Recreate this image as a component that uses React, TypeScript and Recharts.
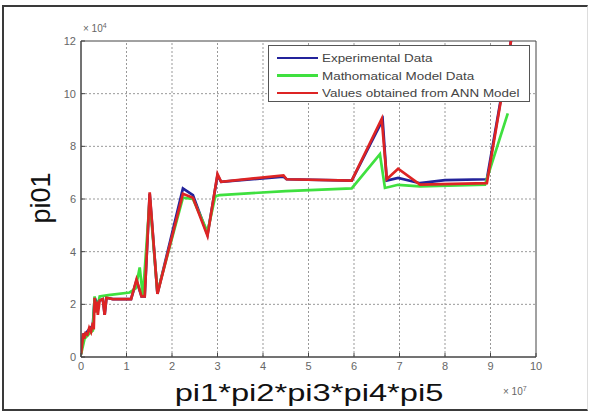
import React from "react";
import {
  Line,
  LineChart,
  ReferenceArea,
  ReferenceLine,
  XAxis,
  YAxis,
} from "recharts";

// x in units of 1e7, y in units of 1e4
const annX = [0, 0.02, 0.05, 0.07, 0.1, 0.14, 0.18, 0.22, 0.26, 0.28, 0.3, 0.32, 0.35, 0.37, 0.41, 0.48, 0.52, 0.56, 0.7, 0.9, 1.1, 1.22, 1.33, 1.4, 1.51, 1.68, 2.24, 2.46, 2.78, 3.0, 3.08, 4.45, 4.52, 5.95, 6.61, 6.72, 6.97, 7.45, 8.92, 9.45];
const annY = [0.1, 0.4, 0.9, 0.7, 0.9, 0.85, 1.1, 0.95, 1.3, 1.05, 2.25, 1.7, 2.1, 1.6, 2.15, 2.2, 1.6, 2.25, 2.2, 2.2, 2.2, 2.95, 2.3, 2.3, 6.25, 2.4, 6.2, 6.05, 4.6, 6.95, 6.65, 6.9, 6.75, 6.7, 9.05, 6.75, 7.15, 6.55, 6.6, 12.0];

const expX = [0, 0.05, 0.1, 0.18, 0.26, 0.3, 0.35, 0.41, 0.48, 0.52, 0.56, 0.7, 1.1, 1.22, 1.33, 1.4, 1.51, 1.68, 2.24, 2.46, 2.78, 3.0, 3.08, 4.45, 4.52, 5.95, 6.63, 6.72, 6.97, 7.45, 8.0, 8.92, 9.45];
const expY = [0.1, 0.85, 0.9, 1.05, 1.2, 2.25, 2.05, 2.15, 2.2, 1.6, 2.25, 2.2, 2.2, 2.9, 2.3, 2.3, 6.2, 2.4, 6.4, 6.15, 4.65, 6.9, 6.65, 6.85, 6.75, 6.7, 9.0, 6.7, 6.8, 6.6, 6.72, 6.75, 12.0];

const mathX = [0, 0.08, 0.19, 0.26, 0.3, 0.34, 0.41, 0.6, 1.07, 1.2, 1.29, 1.36, 1.51, 1.68, 2.24, 2.46, 2.78, 2.95, 3.05, 4.5, 5.95, 6.57, 6.68, 6.97, 7.45, 8.88, 9.38];
const mathY = [0.1, 0.7, 0.9, 1.0, 2.3, 1.7, 2.3, 2.35, 2.45, 2.6, 3.4, 2.3, 6.0, 2.45, 6.05, 6.0, 4.75, 6.1, 6.15, 6.3, 6.4, 7.7, 6.42, 6.54, 6.48, 6.54, 9.25];

const xTicks = [0, 1, 2, 3, 4, 5, 6, 7, 8, 9, 10];
const yTicks = [0, 2, 4, 6, 8, 10, 12];

const series = [
  { name: "Experimental Data", color: "#23239b", xs: expX, ys: expY },
  { name: "Mathomatical Model Data", color: "#3fe03f", xs: mathX, ys: mathY },
  { name: "Values obtained from ANN Model", color: "#dd2424", xs: annX, ys: annY },
];

const toPoints = (xs: number[], ys: number[]) => xs.map((x, i) => ({ x, y: ys[i] }));

const font = '"Liberation Sans", Arial, sans-serif';
const tickStyle = { fill: "#666", fontSize: 11, fontFamily: font };
const gridLine = { stroke: "#999", strokeDasharray: "2 2", strokeWidth: 1 };

function LegendBox() {
  return (
    <div
      style={{
        position: "absolute",
        left: 268,
        top: 45,
        width: 262,
        height: 57,
        border: "1px solid #555",
        background: "#fff",
        boxSizing: "border-box",
        fontFamily: font,
      }}
    >
      {series.map((s, i) => (
        <div
          key={s.name}
          style={{ position: "absolute", left: 8, top: 4 + i * 17.5, height: 16, display: "flex", alignItems: "center" }}
        >
          <div style={{ width: 41, height: 2.5, background: s.color }} />
          <span
            style={{
              marginLeft: 4,
              fontSize: 11,
              color: "#444",
              whiteSpace: "nowrap",
              display: "inline-block",
              transform: "scaleX(1.22)",
              transformOrigin: "left center",
            }}
          >
            {s.name}
          </span>
        </div>
      ))}
    </div>
  );
}

export default function App() {
  return (
    <div style={{ position: "absolute", left: 0, top: 0, width: 589, height: 412, background: "#fff", overflow: "hidden" }}>
      <div
        style={{
          position: "absolute",
          left: 2,
          top: 5,
          width: 586,
          height: 406,
          boxSizing: "border-box",
          borderTop: "2px solid #3a3a3a",
          borderLeft: "2px solid #3a3a3a",
          borderBottom: "2px solid #3a3a3a",
          borderRight: "1px solid #ddd",
        }}
      />
      <LineChart width={589} height={412} margin={{ top: 41, right: 53, bottom: 25, left: 0 }}>
        <XAxis
          type="number"
          dataKey="x"
          domain={[0, 10]}
          ticks={xTicks}
          height={30}
          allowDataOverflow
          axisLine={{ stroke: "#444" }}
          tickLine={{ stroke: "#444" }}
          tickSize={-4}
          tickMargin={9}
          tick={tickStyle}
        />
        <YAxis
          type="number"
          dataKey="y"
          domain={[0, 12]}
          ticks={yTicks}
          width={81}
          allowDataOverflow
          axisLine={{ stroke: "#444" }}
          tickLine={{ stroke: "#444" }}
          tickSize={-4}
          tickMargin={9}
          tick={tickStyle}
        />
        {xTicks.slice(1, -1).map((t) => (
          <ReferenceLine key={`gx${t}`} x={t} {...gridLine} />
        ))}
        {yTicks.slice(1, -1).map((t) => (
          <ReferenceLine key={`gy${t}`} y={t} {...gridLine} />
        ))}
        <ReferenceArea x1={0} x2={10} y1={0} y2={12} fill="none" stroke="#444" strokeWidth={1} ifOverflow="visible" />
        {series.map((s) => (
          <Line
            key={s.name}
            data={toPoints(s.xs, s.ys)}
            dataKey="y"
            name={s.name}
            type="linear"
            stroke={s.color}
            strokeWidth={2.7}
            dot={false}
            isAnimationActive={false}
          />
        ))}
      </LineChart>
      <LegendBox />
      <div style={{ position: "absolute", left: 83, top: 22, fontFamily: font, fontSize: 10, color: "#666", whiteSpace: "nowrap" }}>
        × 10<sup style={{ fontSize: 7 }}>4</sup>
      </div>
      <div style={{ position: "absolute", left: 503, top: 385, fontFamily: font, fontSize: 10, color: "#666", whiteSpace: "nowrap" }}>
        × 10<sup style={{ fontSize: 7 }}>7</sup>
      </div>
      <div
        style={{
          position: "absolute",
          left: 41,
          top: 198,
          transform: "translate(-50%, -50%) rotate(-90deg)",
          fontFamily: font,
          fontSize: 27,
          lineHeight: 1,
          color: "#111",
          whiteSpace: "nowrap",
        }}
      >
        pi01
      </div>
      <div
        style={{
          position: "absolute",
          left: 308.5,
          top: 381,
          transform: "translateX(-50%) scaleX(1.36)",
          fontFamily: font,
          fontSize: 24,
          lineHeight: 1,
          color: "#111",
          whiteSpace: "nowrap",
        }}
      >
        pi1*pi2*pi3*pi4*pi5
      </div>
    </div>
  );
}
